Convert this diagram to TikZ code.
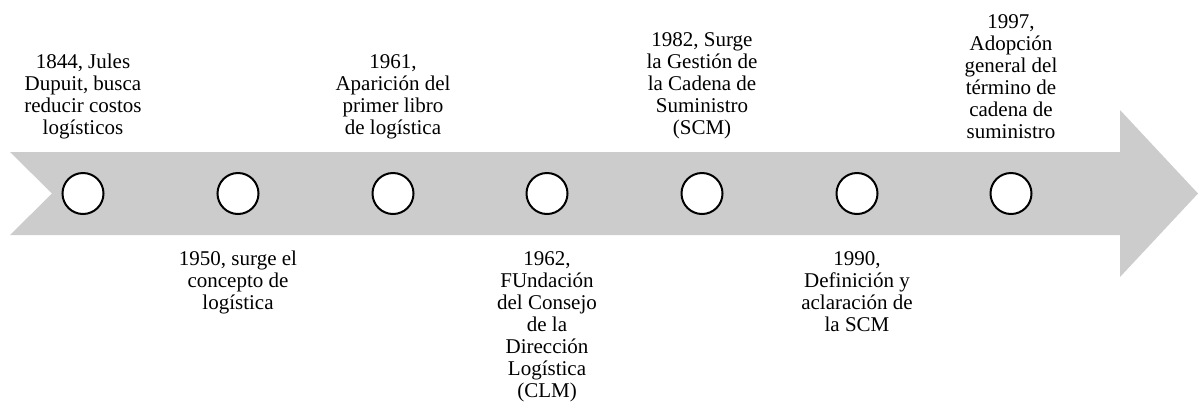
\documentclass[tikz,border=0pt]{standalone}
\usepackage{fontspec}
\setmainfont{Liberation Serif}
\definecolor{arrowgray}{HTML}{CCCCCC}
\tikzset{
    hito/.style={circle,draw=black,line width=2pt,fill=white,minimum size=41pt,inner sep=0pt},
    arriba/.style={anchor=south,align=center,inner sep=0pt,font=\fontsize{21}{22}\selectfont},
    abajo/.style={anchor=north,align=center,inner sep=0pt,font=\fontsize{21}{22}\selectfont}
}
\begin{document}
\begin{tikzpicture}[x=1pt,y=-1pt]
        \useasboundingbox (0,0) rectangle (1198,405);
        \fill[arrowgray] (10,152) -- (1120,152) -- (1120,110) -- (1198,193.5) -- (1120,277) -- (1120,235) -- (10,235) -- (52,193.5) -- cycle;
        \node[hito] (c1) at (83,193.5) {};
        \node[hito] (c2) at (238,193.5) {};
        \node[hito] (c3) at (393,193.5) {};
        \node[hito] (c4) at (547,193.5) {};
        \node[hito] (c5) at (702,193.5) {};
        \node[hito] (c6) at (857,193.5) {};
        \node[hito] (c7) at (1011,193.5) {};
        \node[arriba] (l1) at (83,139) {1844, Jules\\Dupuit, busca\\reducir costos\\logísticos};
        \node[abajo] (l2) at (238,251) {1950, surge el\\concepto de\\logística};
        \node[arriba] (l3) at (393,139) {1961,\\Aparición del\\primer libro\\de logística};
        \node[abajo] (l4) at (547,251) {1962,\\FUndación\\del Consejo\\de la\\Dirección\\Logística\\(CLM)};
        \node[arriba] (l5) at (702,139) {1982, Surge\\la Gestión de\\la Cadena de\\Suministro\\(SCM)};
        \node[abajo] (l6) at (857,251) {1990,\\Definición y\\aclaración de\\la SCM};
        \node[arriba] (l7) at (1011,139) {1997,\\Adopción\\general del\\término de\\cadena de\\suministro};
    \end{tikzpicture}
\end{document}
